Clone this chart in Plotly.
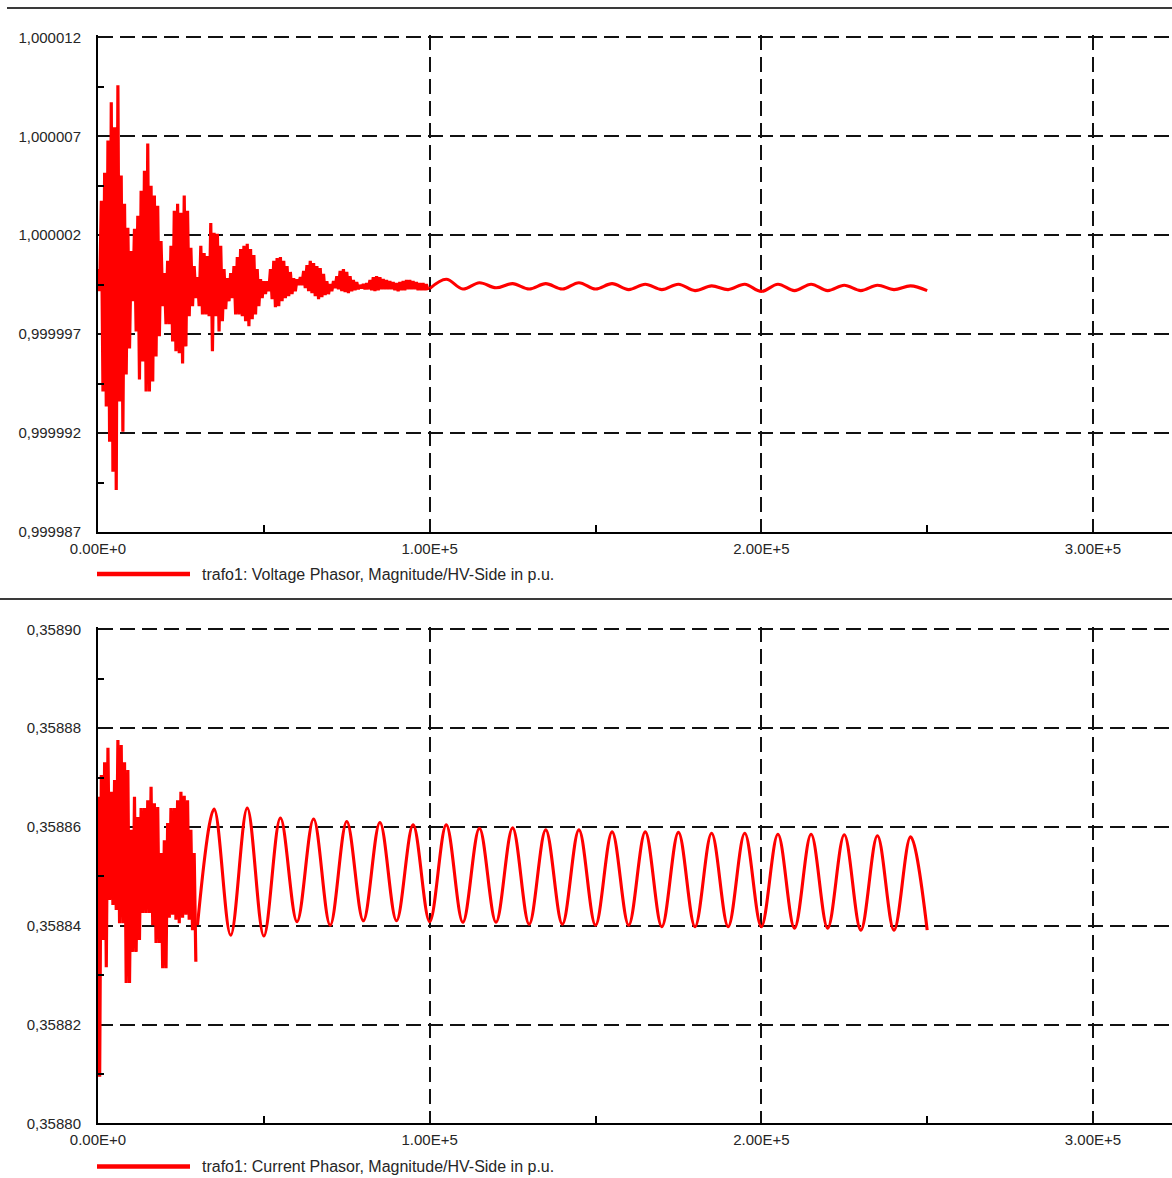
import plotly.graph_objects as go

W, H = 1172, 1178

# ---------------- data ----------------
x_tick_vals = [0, 100000, 200000, 300000]
x_tick_text = ["0.00E+0", "1.00E+5", "2.00E+5", "3.00E+5"]

v_tick_vals = [0.999987, 0.999992, 0.999997, 1.000002, 1.000007, 1.000012]
v_tick_text = ["0,999987", "0,999992", "0,999997", "1,000002", "1,000007", "1,000012"]

i_tick_vals = [0.35880, 0.35882, 0.35884, 0.35886, 0.35888, 0.35890]
i_tick_text = ["0,35880", "0,35882", "0,35884", "0,35886", "0,35888", "0,35890"]

v_name = "trafo1: Voltage Phasor, Magnitude/HV-Side in p.u."
i_name = "trafo1: Current Phasor, Magnitude/HV-Side in p.u."

# voltage: fast oscillation envelope (upper / lower swing), one pair per 1000 time units, t = 0 ... 99500
v_burst_hi = [
    1.00000029, 1.00000374, 1.00000516, 1.00000679, 1.00000872, 1.00000745, 1.00000958, 1.00000501, 1.00000359, 1.00000237,
    1.00000120, 1.00000232, 1.00000298, 1.00000425, 1.00000526, 1.00000663, 1.00000450, 1.00000400, 1.00000349, 1.00000171,
    1.00000009, 1.00000070, 1.00000146, 1.00000323, 1.00000359, 1.00000313, 1.00000400, 1.00000323, 1.00000136, 1.00000044,
    0.99999988, 1.00000146, 1.00000110, 1.00000095, 1.00000262, 1.00000212, 1.00000207, 1.00000146, 1.00000029, 0.99999983,
    1.00000009, 1.00000044, 1.00000090, 1.00000130, 1.00000146, 1.00000156, 1.00000130, 1.00000100, 1.00000029, 0.99999978,
    0.99999968, 0.99999968, 1.00000029, 1.00000070, 1.00000085, 1.00000090, 1.00000070, 1.00000044, 1.00000014, 0.99999983,
    0.99999978, 0.99999988, 1.00000019, 1.00000049, 1.00000070, 1.00000059, 1.00000044, 1.00000034, 1.00000004, 0.99999968,
    0.99999953, 0.99999968, 0.99999993, 1.00000019, 1.00000029, 1.00000014, 0.99999993, 0.99999973, 0.99999963, 0.99999948,
    0.99999953, 0.99999958, 0.99999973, 0.99999988, 0.99999993, 0.99999988, 0.99999978, 0.99999973, 0.99999968, 0.99999963,
    0.99999958, 0.99999963, 0.99999968, 0.99999973, 0.99999973, 0.99999968, 0.99999963, 0.99999958, 0.99999958, 0.99999953,
]
v_burst_lo = [
    0.99999917, 0.99999410, 0.99999334, 0.99999156, 0.99999004, 0.99998912, 0.99999359, 0.99999207, 0.99999496, 0.99999628,
    0.99999866, 0.99999714, 0.99999471, 0.99999562, 0.99999410, 0.99999410, 0.99999460, 0.99999587, 0.99999689, 0.99999841,
    0.99999750, 0.99999750, 0.99999663, 0.99999613, 0.99999603, 0.99999552, 0.99999638, 0.99999790, 0.99999841, 0.99999882,
    0.99999841, 0.99999800, 0.99999800, 0.99999790, 0.99999613, 0.99999790, 0.99999714, 0.99999765, 0.99999826, 0.99999866,
    0.99999882, 0.99999800, 0.99999800, 0.99999790, 0.99999765, 0.99999740, 0.99999775, 0.99999800, 0.99999841, 0.99999882,
    0.99999902, 0.99999917, 0.99999877, 0.99999836, 0.99999841, 0.99999866, 0.99999882, 0.99999892, 0.99999902, 0.99999917,
    0.99999948, 0.99999948, 0.99999932, 0.99999917, 0.99999907, 0.99999892, 0.99999877, 0.99999887, 0.99999897, 0.99999902,
    0.99999917, 0.99999932, 0.99999927, 0.99999917, 0.99999912, 0.99999907, 0.99999917, 0.99999922, 0.99999927, 0.99999932,
    0.99999927, 0.99999927, 0.99999922, 0.99999917, 0.99999922, 0.99999927, 0.99999927, 0.99999927, 0.99999927, 0.99999922,
    0.99999917, 0.99999922, 0.99999922, 0.99999927, 0.99999927, 0.99999927, 0.99999922, 0.99999922, 0.99999922, 0.99999922,
]
v_burst_step = 1000

# voltage: slow settled oscillation, extremes every 5000 time units
v_tail_t = [100000, 105000, 110000, 115000, 120000, 125000, 130000, 135000, 140000, 145000,
            150000, 155000, 160000, 165000, 170000, 175000, 180000, 185000, 190000, 195000,
            200000, 205000, 210000, 215000, 220000, 225000, 230000, 235000, 240000, 245000, 250000]
v_tail = [0.99999930, 0.99999977, 0.99999928, 0.99999960, 0.99999934, 0.99999955, 0.99999928, 0.99999955,
          0.99999928, 0.99999960, 0.99999928, 0.99999955, 0.99999925, 0.99999952, 0.99999925, 0.99999952,
          0.99999920, 0.99999944, 0.99999925, 0.99999952, 0.99999916, 0.99999952, 0.99999920, 0.99999952,
          0.99999920, 0.99999947, 0.99999920, 0.99999947, 0.99999925, 0.99999944, 0.99999920]

# current: fast oscillation envelope, t = 0 ... 29500
i_burst_hi = [
    0.3588661, 0.3588705, 0.3588731, 0.3588760, 0.3588671, 0.3588695, 0.3588776, 0.3588766, 0.3588731, 0.3588715,
    0.3588594, 0.3588661, 0.3588620, 0.3588638, 0.3588638, 0.3588654, 0.3588681, 0.3588648, 0.3588640, 0.3588547,
    0.3588573, 0.3588608, 0.3588638, 0.3588638, 0.3588654, 0.3588671, 0.3588663, 0.3588654, 0.3588594, 0.3588547,
]
i_burst_lo = [
    0.3588094, 0.3588371, 0.3588316, 0.3588452, 0.3588442, 0.3588432, 0.3588405, 0.3588405, 0.3588284, 0.3588284,
    0.3588347, 0.3588347, 0.3588371, 0.3588426, 0.3588426, 0.3588426, 0.3588401, 0.3588365, 0.3588365, 0.3588314,
    0.3588314, 0.3588416, 0.3588422, 0.3588412, 0.3588405, 0.3588416, 0.3588422, 0.3588412, 0.3588391, 0.3588327,
]
i_burst_step = 1000

# current: slow oscillation, extremes every 5000 time units
i_tail_t = [30000, 35000, 40000, 45000, 50000, 55000, 60000, 65000, 70000, 75000,
            80000, 85000, 90000, 95000, 100000, 105000, 110000, 115000, 120000, 125000,
            130000, 135000, 140000, 145000, 150000, 155000, 160000, 165000, 170000, 175000,
            180000, 185000, 190000, 195000, 200000, 205000, 210000, 215000, 220000, 225000,
            230000, 235000, 240000, 245000, 250000]
i_tail = [0.3588401, 0.3588636, 0.3588381, 0.3588638, 0.3588379, 0.3588618, 0.3588408, 0.3588616, 0.3588401, 0.3588611,
          0.3588410, 0.3588609, 0.3588410, 0.3588604, 0.3588408, 0.3588604, 0.3588407, 0.3588597, 0.3588407, 0.3588598,
          0.3588403, 0.3588594, 0.3588403, 0.3588594, 0.3588401, 0.3588590, 0.3588401, 0.3588590, 0.3588398, 0.3588589,
          0.3588398, 0.3588587, 0.3588398, 0.3588587, 0.3588398, 0.3588585, 0.3588395, 0.3588585, 0.3588395, 0.3588584,
          0.3588391, 0.3588582, 0.3588391, 0.3588580, 0.3588391]


def zigzag(hi, lo, step):
    xs, ys = [], []
    for k, (a, b) in enumerate(zip(hi, lo)):
        xs += [k * step, k * step + step / 2]
        ys += [a, b]
    return xs, ys


# ---------------- figure ----------------
RED = "#ff0000"
LW = 3.1
TXT = "#262626"
FONT = "Liberation Sans, Arial, sans-serif"

fig = go.Figure()
vx, vy = zigzag(v_burst_hi, v_burst_lo, v_burst_step)
fig.add_trace(go.Scatter(x=vx, y=vy, mode="lines", line=dict(color=RED, width=3.2),
                         xaxis="x", yaxis="y", name=v_name, showlegend=False))
fig.add_trace(go.Scatter(x=v_tail_t, y=v_tail, mode="lines", line=dict(color=RED, width=LW, shape="spline"),
                         xaxis="x", yaxis="y", name=v_name, showlegend=False))
ix, iy = zigzag(i_burst_hi, i_burst_lo, i_burst_step)
fig.add_trace(go.Scatter(x=ix, y=iy, mode="lines", line=dict(color=RED, width=3.2),
                         xaxis="x2", yaxis="y2", name=i_name, showlegend=False))
fig.add_trace(go.Scatter(x=i_tail_t, y=i_tail, mode="lines", line=dict(color=RED, width=LW, shape="spline"),
                         xaxis="x2", yaxis="y2", name=i_name, showlegend=False))


def py(p):  # pixel row -> paper y
    return 1 - p / H


def px(p):  # pixel column -> paper x
    return p / W


X_LEFT = 98
X_PER_UNIT = 331.67 / 100000
x_range = [0, (W - X_LEFT) / X_PER_UNIT]

grid = dict(showgrid=True, gridcolor="#111111", gridwidth=1.6, griddash="15px,7px")
tickfont = dict(family=FONT, size=15, color=TXT)


def xaxis_cfg(anchor):
    return dict(domain=[px(X_LEFT), 1], range=x_range, anchor=anchor, automargin=False,
                tickmode="array", tickvals=x_tick_vals, ticktext=x_tick_text, ticks="",
                showline=True, linecolor="black", linewidth=2, zeroline=False,
                tickfont=tickfont, ticklabelstandoff=2,
                minor=dict(tickmode="array", tickvals=[50000, 150000, 250000], ticks="inside",
                           ticklen=7, tickwidth=1.5, tickcolor="black", showgrid=False),
                **grid)


def yaxis_cfg(anchor, top_px, bot_px, vals, text, extra):
    mids = [(a + b) / 2 for a, b in zip(vals[:-1], vals[1:])]
    return dict(domain=[py(bot_px), py(top_px)], range=[vals[0], vals[-1] + extra], anchor=anchor,
                automargin=False,
                tickmode="array", tickvals=vals, ticktext=text, ticks="",
                showline=True, linecolor="black", linewidth=2, zeroline=False,
                tickfont=tickfont, ticklabelstandoff=12,
                minor=dict(tickmode="array", tickvals=mids, ticks="inside",
                           ticklen=6, tickwidth=1.5, tickcolor="black", showgrid=False),
                **grid)


fig.update_layout(
    width=W, height=H, margin=dict(l=0, r=0, t=0, b=0, pad=0, autoexpand=False),
    paper_bgcolor="white", plot_bgcolor="white", showlegend=False,
    xaxis=xaxis_cfg("y"),
    yaxis=yaxis_cfg("x", 35.3, 532, v_tick_vals, v_tick_text, 0.0000001015),
    xaxis2=xaxis_cfg("y2"),
    yaxis2=yaxis_cfg("x2", 627.3, 1123.3, i_tick_vals, i_tick_text, 0.000000405),
)

# separators and legend entries
shapes = [
    dict(type="line", xref="paper", yref="paper", x0=px(7), x1=1, y0=py(8), y1=py(8),
         line=dict(color="#3a3a3a", width=2)),
    dict(type="line", xref="paper", yref="paper", x0=0, x1=1, y0=py(599), y1=py(599),
         line=dict(color="#3a3a3a", width=2)),
]
annotations = []
for ly, name in [(574, v_name), (1166.5, i_name)]:
    shapes.append(dict(type="line", xref="paper", yref="paper", x0=px(97), x1=px(190), y0=py(ly), y1=py(ly),
                       line=dict(color=RED, width=4.5)))
    annotations.append(dict(text=name, xref="paper", yref="paper", x=px(200), y=py(ly),
                            xanchor="left", yanchor="middle", showarrow=False,
                            font=dict(family=FONT, size=16, color=TXT)))
fig.update_layout(shapes=shapes, annotations=annotations)

fig.write_html("out.html", config={"displayModeBar": False},
               post_script="document.body.style.margin='0';document.body.style.overflow='hidden';")
